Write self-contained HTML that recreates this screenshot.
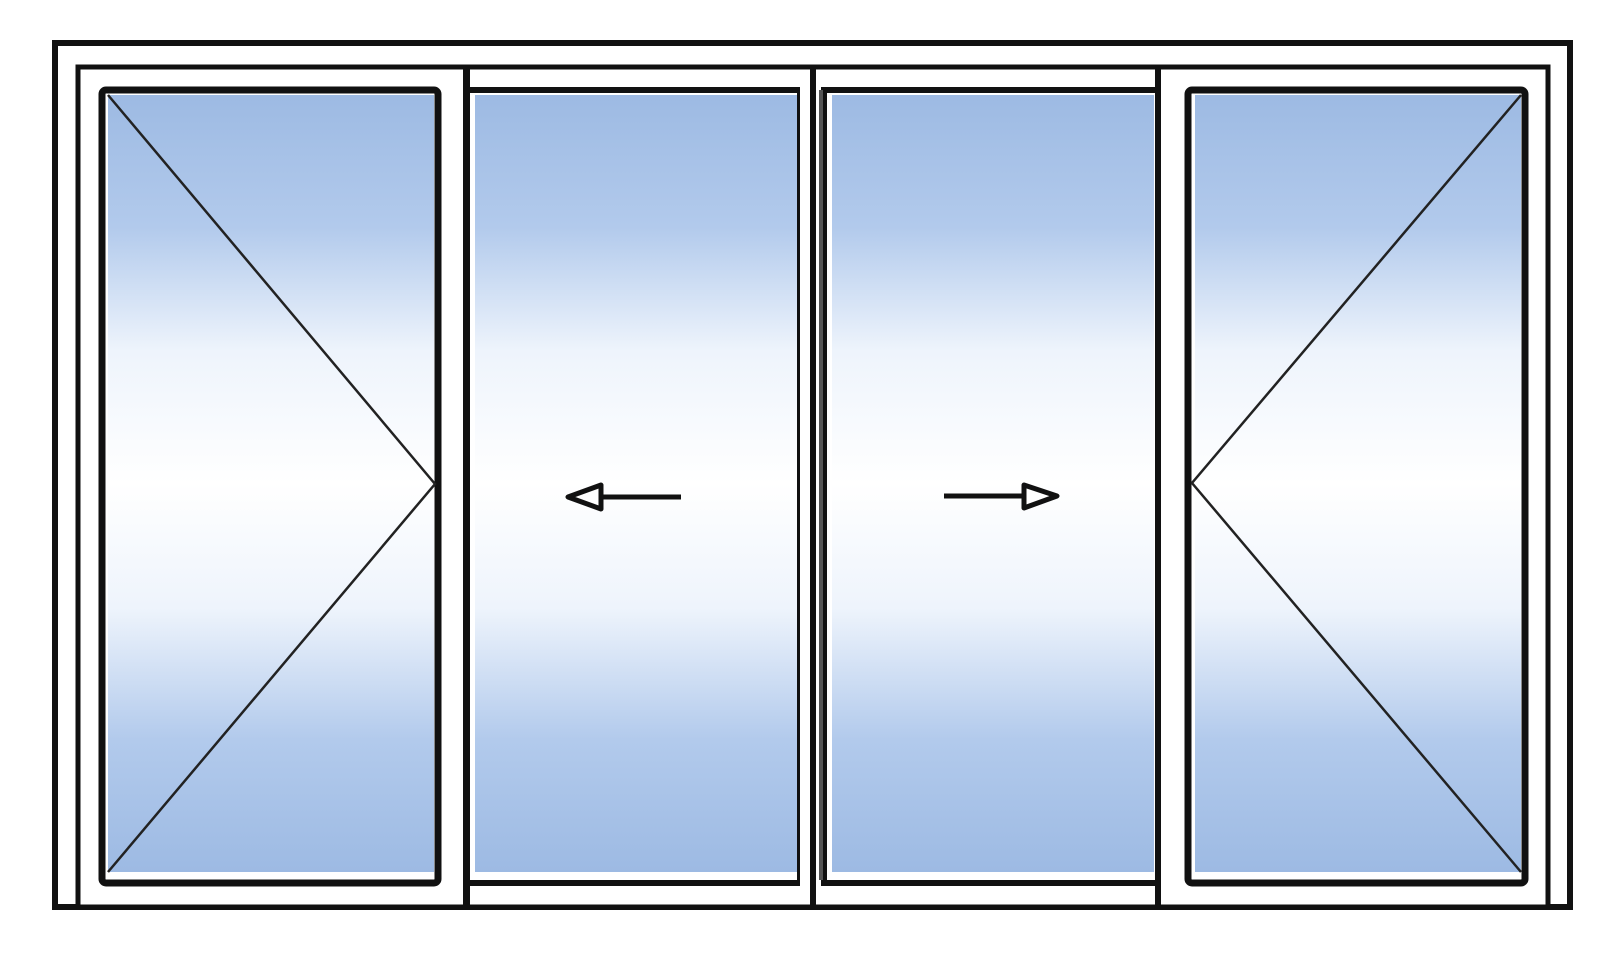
<!DOCTYPE html>
<html><head><meta charset="utf-8"><style>html,body{margin:0;padding:0;background:#fff}svg{display:block}</style></head>
<body>
<svg width="1604" height="958" viewBox="0 0 1604 958" xmlns="http://www.w3.org/2000/svg">
<defs>
<linearGradient id="g" x1="0" y1="0" x2="0" y2="1">
<stop offset="0" stop-color="#9dbae3"/>
<stop offset="0.17" stop-color="#b2caec"/>
<stop offset="0.33" stop-color="#eef4fc"/>
<stop offset="0.5" stop-color="#ffffff"/>
<stop offset="0.66" stop-color="#eef4fc"/>
<stop offset="0.83" stop-color="#b2caec"/>
<stop offset="1" stop-color="#9dbae3"/>
</linearGradient>
</defs>
<!-- outer frame -->
<rect x="55" y="43" width="1515" height="864" fill="#fff" stroke="#111" stroke-width="6"/>
<rect x="78" y="67" width="1470" height="840" fill="#fff" stroke="#111" stroke-width="5"/>
<!-- mullions -->
<rect x="463" y="67" width="7" height="843" fill="#111"/>
<rect x="810" y="67" width="6" height="843" fill="#111"/>
<rect x="1155" y="67" width="6" height="843" fill="#111"/>
<!-- left sash -->
<rect x="102" y="90" width="336" height="793" rx="4" fill="#fff" stroke="#111" stroke-width="7"/>
<rect x="108" y="95" width="326" height="777" fill="url(#g)"/>
<!-- panel 2 -->
<rect x="466" y="87" width="334" height="799" fill="#111"/>
<rect x="470" y="93" width="327" height="787" fill="#fff"/>
<rect x="475" y="95" width="322" height="777" fill="url(#g)"/>
<!-- panel 3 -->
<rect x="821" y="87" width="334" height="799" fill="#111"/>
<rect x="827" y="93" width="328" height="787" fill="#fff"/>
<rect x="832" y="95" width="322" height="777" fill="url(#g)"/>
<rect x="819" y="90" width="4" height="790" fill="#555"/>
<!-- right sash -->
<rect x="1188" y="90" width="337" height="793" rx="4" fill="#fff" stroke="#111" stroke-width="7"/>
<rect x="1195" y="95" width="326" height="777" fill="url(#g)"/>
<!-- diagonals -->
<polyline points="108,95 435,484 108,872" fill="none" stroke="#222" stroke-width="2.5"/>
<polyline points="1521,95 1192,483 1521,872" fill="none" stroke="#222" stroke-width="2.5"/>
<!-- arrows -->
<line x1="601" y1="497" x2="681" y2="497" stroke="#111" stroke-width="5"/>
<polygon points="568,497 601,485 601,509" fill="#fff" stroke="#111" stroke-width="5" stroke-linejoin="round"/>
<line x1="944" y1="496" x2="1024" y2="496" stroke="#111" stroke-width="5"/>
<polygon points="1057,496 1024,485 1024,508" fill="#fff" stroke="#111" stroke-width="5" stroke-linejoin="round"/>
</svg>
</body></html>
